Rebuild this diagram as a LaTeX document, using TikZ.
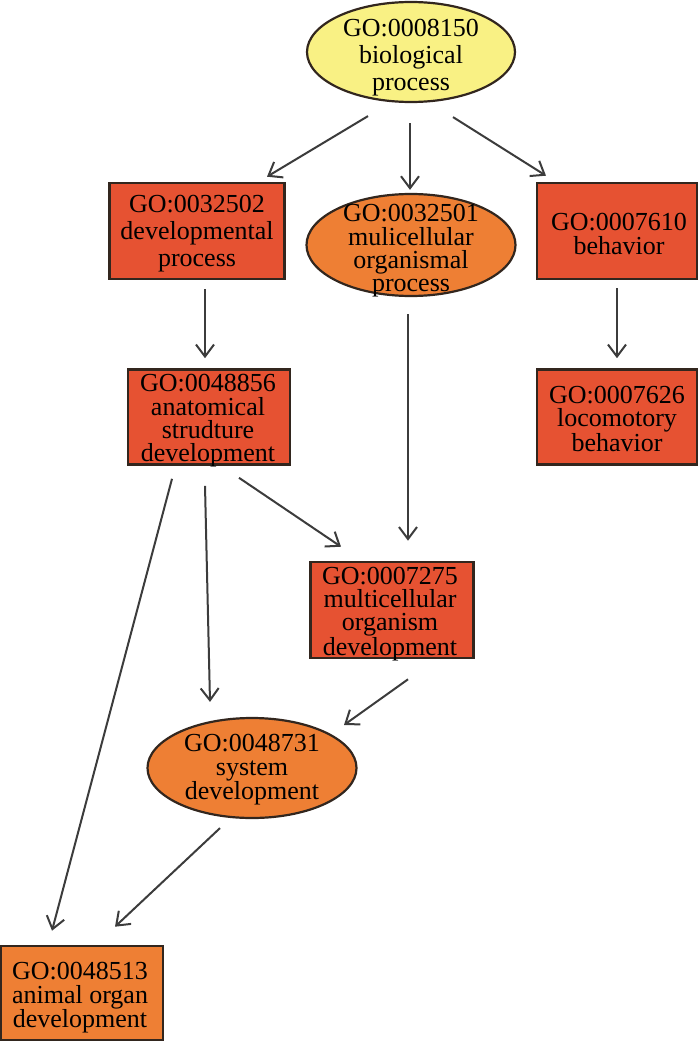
\documentclass[tikz,border=0pt]{standalone}
\usepackage{fontspec}
\setmainfont{Liberation Serif}
\usetikzlibrary{shapes.geometric,arrows.meta,calc}
\definecolor{goyellow}{RGB}{249,241,132}
\definecolor{gored}{RGB}{230,82,50}
\definecolor{goorange}{RGB}{238,127,52}
\definecolor{goborder}{RGB}{50,38,30}
\definecolor{goedge}{RGB}{60,60,60}
\begin{document}
\begin{tikzpicture}[x=1pt,y=-1pt,
  boxshape/.style={draw=goborder,line width=2.6pt,inner sep=0pt,rectangle},
  ellshape/.style={draw=goborder,line width=2.2pt,inner sep=0pt,ellipse},
  lbl/.style={align=center,inner sep=0pt,text=black},
  three/.style={lbl,font=\fontsize{26}{27}\selectfont},
  four/.style={lbl,font=\fontsize{26}{23.3}\selectfont},
  arr/.style={draw=goedge,line width=2pt,-{Straight Barb[length=12pt,width=18pt]}}]
\useasboundingbox (0,0) rectangle (700,1043);
% shapes
\node[ellshape,fill=goyellow,minimum width=208,minimum height=100] (n1) at (411,52) {};
\node[boxshape,fill=gored,minimum width=175,minimum height=96] (n2) at (197,231) {};
\node[ellshape,fill=goorange,minimum width=209,minimum height=102] (n3) at (411,245) {};
\node[boxshape,fill=gored,minimum width=160,minimum height=96] (n4) at (617,231) {};
\node[boxshape,fill=gored,minimum width=160,minimum height=95] (n5) at (617,417) {};
\node[boxshape,fill=gored,minimum width=162,minimum height=95] (n6) at (209,417) {};
\node[boxshape,fill=gored,minimum width=163,minimum height=96] (n7) at (392,610) {};
\node[ellshape,fill=goorange,minimum width=209,minimum height=100] (n8) at (252,768) {};
\node[boxshape,fill=goorange,minimum width=162,minimum height=94] (n9) at (82,993) {};
% labels
\node[three] (t1) at (411,58) {GO:0008150\\biological\\process};
\node[three] (t2) at (197,234) {GO:0032502\\developmental\\process};
\node[four] (t3) at (411,251) {GO:0032501\\mulicellular\\organismal\\process};
\node[four] (t4) at (619,234) {GO:0007610\\behavior};
\node[four] (t5) at (617,419) {GO:0007626\\locomotory\\behavior};
\node[four] (t6) at (208,421) {GO:0048856\\anatomical\\strudture\\development};
\node[four] (t7) at (390,614) {GO:0007275\\multicellular\\organism\\development};
\node[four] (t8) at (252,770) {GO:0048731\\system\\development};
\node[four] (t9) at (80,998) {GO:0048513\\animal organ\\development};
% connectors
\draw[arr] ($(n1.south)+(-43,13)$) -- ($(n2.north)+(70,-5)$);
\draw[arr] ($(n1.south)+(-1,20)$) -- ($(n3.north)+(-1,-3)$);
\draw[arr] ($(n1.south)+(42,14)$) -- ($(n4.north)+(-71,-6)$);
\draw[arr] ($(n2.south)+(8,9)$) -- ($(n6.north)+(-4,-10)$);
\draw[arr] ($(n4.south)+(0,8)$) -- ($(n5.north)+(0,-10)$);
\draw[arr] ($(n3.south)+(-3,17)$) -- ($(n7.north)+(16,-20)$);
\draw[arr] ($(n6.south)+(30,12)$) -- ($(n7.north)+(-51,-14)$);
\draw[arr] ($(n6.south)+(-4,20)$) -- ($(n8.north)+(-42,-15)$);
\draw[arr] ($(n6.south)+(-37,13)$) -- ($(n9.north)+(-30,-14)$);
\draw[arr] ($(n7.south)+(16,20)$) -- ($(n8.center)+(92,-43)$);
\draw[arr] ($(n8.south)+(-32,9)$) -- ($(n9.north)+(33,-18)$);
\end{tikzpicture}
\end{document}
